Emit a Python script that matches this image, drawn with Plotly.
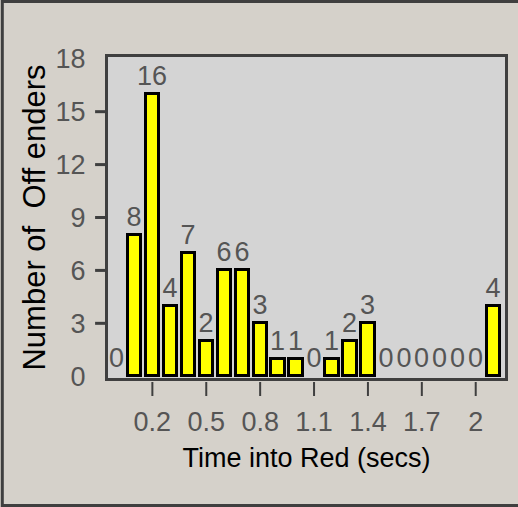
import plotly.graph_objects as go

# Data
times = [0.0, 0.1, 0.2, 0.3, 0.4, 0.5, 0.6, 0.7, 0.8, 0.9, 1.0, 1.1,
         1.2, 1.3, 1.4, 1.5, 1.6, 1.7, 1.8, 1.9, 2.0, 2.1]
offenders = [0, 8, 16, 4, 7, 2, 6, 6, 3, 1, 1, 0,
             1, 2, 3, 0, 0, 0, 0, 0, 0, 4]
x_ticks = [0.2, 0.5, 0.8, 1.1, 1.4, 1.7, 2.0]
x_tick_labels = ["0.2", "0.5", "0.8", "1.1", "1.4", "1.7", "2"]
y_label_vals = [0, 3, 6, 9, 12, 15, 18]
y_tick_marks = [3, 6, 9, 12, 15]

W, H = 518, 507
L, R, T, B = 108, 10, 57, 129
PW, PH = W - L - R, H - T - B

FONT = "Liberation Sans, Arial, sans-serif"
AX = "#3f3f3f"
LBL = "#555555"

fig = go.Figure()
fig.add_trace(go.Bar(
    x=times, y=offenders, width=0.074,
    marker=dict(color="#ffff00",
                line=dict(color="#000000", width=[3 if v > 0 else 0 for v in offenders])),
    text=[str(v) for v in offenders], textposition="outside",
    textfont=dict(family=FONT, size=27, color=LBL),
    constraintext="none",
    cliponaxis=False,
))

shapes = []
for v in y_tick_marks:
    shapes.append(dict(type="line", xref="paper", yref="y",
                       x0=-13 / PW, x1=-2 / PW, y0=v, y1=v,
                       line=dict(color=AX, width=3)))
for v in x_ticks:
    shapes.append(dict(type="line", xref="x", yref="paper",
                       x0=v, x1=v, y0=-4 / PH, y1=-18 / PH,
                       line=dict(color=AX, width=2)))
# outer frame (top, left, bottom; right edge falls outside the page)
xl, xr = -L / PW, 1 + R / PW
yb, yt = -B / PH, 1 + T / PH
shapes.append(dict(type="rect", xref="paper", yref="paper",
                   x0=xl + 1.5 / PW, x1=xr + 6 / PW,
                   y0=yb + 1.5 / PH, y1=yt - 1.5 / PH,
                   line=dict(color=AX, width=3), fillcolor="rgba(0,0,0,0)",
                   layer="above"))

fig.update_layout(
    width=W, height=H,
    margin=dict(l=L, r=R, t=T, b=B, pad=0),
    paper_bgcolor="#d5d1ca",
    plot_bgcolor="#d4d4d4",
    showlegend=False,
    bargap=0,
    shapes=shapes,
    font=dict(family=FONT, color=LBL),
    xaxis=dict(
        range=[-0.047, 2.163], tickvals=x_ticks, ticktext=x_tick_labels,
        ticks="outside", ticklen=18, tickcolor="rgba(0,0,0,0)",
        tickfont=dict(family=FONT, size=27, color=LBL),
        showline=True, linecolor=AX, linewidth=3, mirror=True,
        showgrid=False, zeroline=False,
        title=dict(text="Time into Red (secs)",
                   font=dict(family=FONT, size=27, color="#000000"), standoff=12),
    ),
    yaxis=dict(
        range=[-0.1, 18.1], tickvals=y_label_vals,
        ticks="outside", ticklen=14, tickcolor="rgba(0,0,0,0)",
        tickfont=dict(family=FONT, size=27, color=LBL),
        showline=True, linecolor=AX, linewidth=3, mirror=True,
        showgrid=False, zeroline=False,
    ),
    annotations=[dict(
        text="Number of  Off enders", textangle=-90,
        xref="paper", yref="paper", x=(34 - L) / PW, y=(H - B - 218) / PH,
        xanchor="center", yanchor="middle", showarrow=False,
        font=dict(family=FONT, size=31, color="#000000"),
    )],
)

fig.write_html("out.html", config={"displayModeBar": False},
               post_script="document.body.style.margin='0';document.body.style.overflow='hidden';")
